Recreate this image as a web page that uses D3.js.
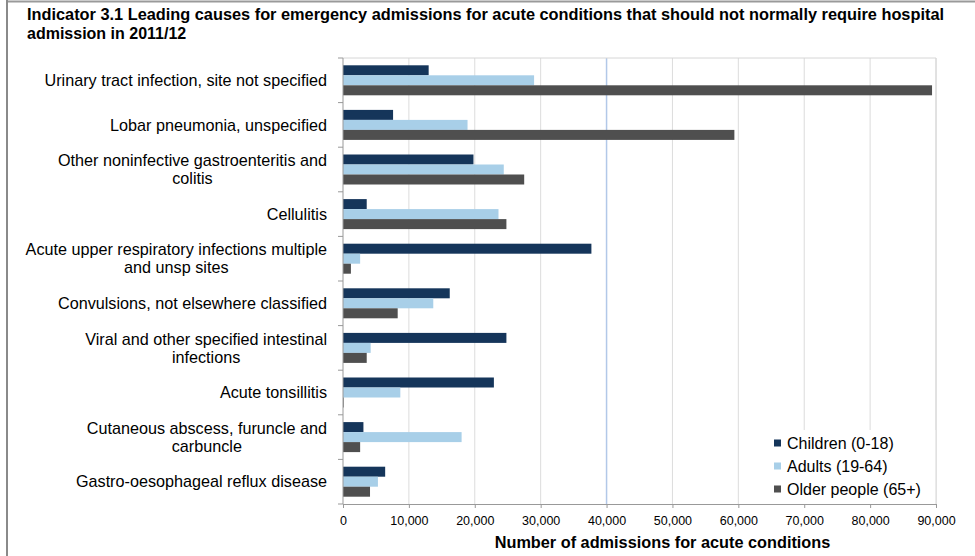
<!DOCTYPE html>
<html>
<head>
<meta charset="utf-8">
<script src="https://cdn.jsdelivr.net/npm/d3@7"></script>
<style>
  body { margin: 0; background: #fff; }
  svg { display: block; font-family: "Liberation Sans", Arial, Helvetica, sans-serif; }
</style>
</head>
<body>
<svg id="chart" width="975" height="556"></svg>
<script>
// Data
const categories = [
  "Urinary tract infection, site not specified",
  "Lobar pneumonia, unspecified",
  "Other noninfective gastroenteritis and\ncolitis",
  "Cellulitis",
  "Acute upper respiratory infections multiple\nand unsp sites",
  "Convulsions, not elsewhere classified",
  "Viral and other specified intestinal\ninfections",
  "Acute tonsillitis",
  "Cutaneous abscess, furuncle and\ncarbuncle",
  "Gastro-oesophageal reflux disease"
];
const seriesNames = ["Children (0-18)", "Adults (19-64)", "Older people (65+)"];
const children = [13000, 7600, 19800, 3600, 37700, 16200, 24800, 22900, 3100, 6400];
const adults = [29000, 18900, 24400, 23600, 2600, 13700, 4200, 8700, 18000, 5300];
const older = [89400, 59400, 27500, 24800, 1200, 8300, 3600, 100, 2600, 4100];
const xTicks = [0, 10000, 20000, 30000, 40000, 50000, 60000, 70000, 80000, 90000];
const titleLines = [
  "Indicator 3.1 Leading causes for emergency admissions for acute conditions that should not normally require hospital",
  "admission in 2011/12"
];
const xTitle = "Number of admissions for acute conditions";

const colors = ["#15355a", "#a8cfe8", "#4f4f4f"];
const values = [children, adults, older];

// Layout
const margin = {top: 58, right: 39, bottom: 52, left: 343};
const width = 975, height = 556;
const plotW = width - margin.left - margin.right;
const plotH = height - margin.top - margin.bottom;

const svg = d3.select("#chart");

// Outer frame
svg.append("line").attr("x1", 7).attr("x2", width).attr("y1", 1.5).attr("y2", 1.5)
  .attr("stroke", "#9a9a9a").attr("stroke-width", 2);
svg.append("line").attr("x1", 7).attr("x2", 7).attr("y1", 0).attr("y2", height)
  .attr("stroke", "#8a8a8a").attr("stroke-width", 2);

// Title
svg.selectAll(".title").data(titleLines).enter().append("text")
  .attr("class", "title")
  .attr("x", 27)
  .attr("y", (d, i) => 20 + i * 19)
  .style("font-size", "16px")
  .style("font-weight", "bold")
  .attr("fill", "#000")
  .attr("textLength", (d, i) => i === 0 ? 917 : null)
  .attr("lengthAdjust", "spacingAndGlyphs")
  .text(d => d);

const g = svg.append("g").attr("transform", `translate(${margin.left},${margin.top})`);

// Scales
const x = d3.scaleLinear().domain([0, 90000]).range([0, plotW]);
const y = d3.scaleBand().domain(categories).range([0, plotH]).padding(0);
const y1 = d3.scaleBand().domain(seriesNames).range([0, y.bandwidth()])
  .paddingInner(0).paddingOuter(0.73);

// Gridlines
g.selectAll(".grid").data(xTicks.slice(1)).enter().append("line")
  .attr("class", "grid")
  .attr("x1", d => x(d)).attr("x2", d => x(d))
  .attr("y1", 0).attr("y2", plotH)
  .attr("stroke", d => d === 40000 ? "#b2c8e8" : "#dcdcdc")
  .attr("stroke-width", d => d === 40000 ? 1.5 : 1);

// Plot border top
g.append("line").attr("x1", 0).attr("x2", plotW).attr("y1", 0).attr("y2", 0)
  .attr("stroke", "#d6d6d6");

// Bars
categories.forEach((cat, ci) => {
  const grp = g.append("g").attr("transform", `translate(0,${y(cat)})`);
  seriesNames.forEach((s, si) => {
    grp.append("rect")
      .attr("x", x(0))
      .attr("y", y1(s))
      .attr("width", x(values[si][ci]) - x(0))
      .attr("height", y1.bandwidth())
      .attr("fill", colors[si]);
  });
});

// Legend (white box over gridlines)
const legend = g.append("g").attr("transform", `translate(${plotW - 170},${plotH - 74})`);
legend.append("rect").attr("x", 0).attr("y", 0).attr("width", 170).attr("height", 74)
  .attr("fill", "#fff");
seriesNames.forEach((s, i) => {
  const row = legend.append("g").attr("transform", `translate(8,${13 + i * 23})`);
  row.append("rect").attr("x", 0).attr("y", -3.5).attr("width", 7).attr("height", 7)
    .attr("fill", colors[i]);
  row.append("text").attr("x", 13).attr("y", 0).attr("dy", "0.35em")
    .style("font-size", "16px").attr("fill", "#000").text(s);
});

// Plot border right
g.append("line").attr("x1", plotW).attr("x2", plotW).attr("y1", 0).attr("y2", plotH)
  .attr("stroke", "#d6d6d6");

// X axis
const xAxis = g.append("g").attr("transform", `translate(0,${plotH})`)
  .call(d3.axisBottom(x).tickValues(xTicks).tickSize(4).tickPadding(8)
    .tickFormat(d3.format(",")));
xAxis.select(".domain").attr("stroke", "#999");
xAxis.selectAll(".tick line").attr("stroke", "#999");
xAxis.selectAll(".tick text").style("font-size", "12.5px").attr("fill", "#000");

// Y axis line + boundary ticks
g.append("line").attr("x1", 0).attr("x2", 0).attr("y1", 0).attr("y2", plotH)
  .attr("stroke", "#999");
g.selectAll(".ytick").data(categories.concat([null])).enter().append("line")
  .attr("class", "ytick")
  .attr("x1", -5).attr("x2", 0)
  .attr("y1", (d, i) => i < categories.length ? y(d) : plotH)
  .attr("y2", (d, i) => i < categories.length ? y(d) : plotH)
  .attr("stroke", "#999");

// Category labels (multi-line centred blocks, right aligned)
const labelRight = -16;
categories.forEach(cat => {
  const lines = cat.split("\n");
  const cy = y(cat) + y.bandwidth() / 2;
  const t = g.append("text")
    .style("font-size", "16.2px")
    .attr("fill", "#000")
    .attr("text-anchor", "middle");
  lines.forEach((ln, li) => {
    t.append("tspan").attr("x", 0)
      .attr("y", cy + (li - (lines.length - 1) / 2) * 18)
      .attr("dy", "0.35em").text(ln);
  });
  const w = t.node().getBBox().width;
  t.selectAll("tspan").attr("x", labelRight - w / 2);
});

// X axis title
g.append("text")
  .attr("x", plotW / 2 + 23)
  .attr("y", plotH + 44)
  .attr("text-anchor", "middle")
  .style("font-size", "16.3px")
  .style("font-weight", "bold")
  .attr("fill", "#000")
  .text(xTitle);
</script>
</body>
</html>
